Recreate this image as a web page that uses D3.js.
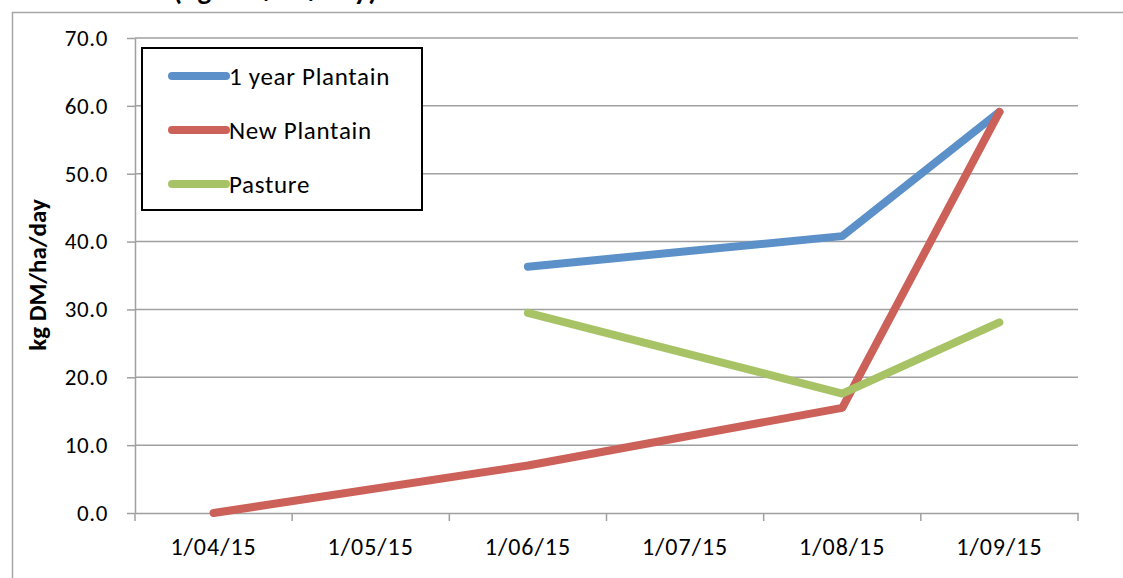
<!DOCTYPE html>
<html>
<head>
<meta charset="utf-8">
<script src="https://cdn.jsdelivr.net/npm/d3@7"></script>
<style>
  body { margin: 0; background: #fff; }
  svg { display: block; font-family: Calibri, Carlito, Lato, sans-serif; }
</style>
</head>
<body>
<div id="chart"></div>
<script>
// CONSTANTS
const WIDTH = 1123;
const HEIGHT = 578;
const FONT = "Calibri, Carlito, Lato, sans-serif";

// DATA
const dates = ["1/04/15", "1/05/15", "1/06/15", "1/07/15", "1/08/15", "1/09/15"];
const oneYearPlantain = [null, null, 36.3, null, 40.8, 59.1];
const newPlantain = [0.0, null, 7.0, null, 15.5, 59.1];
const pasture = [null, null, 29.5, null, 17.6, 28.1];
const yTicks = [0, 10, 20, 30, 40, 50, 60, 70];

const series = [
  { name: "1 year Plantain", values: oneYearPlantain, color: "#5b90c8" },
  { name: "New Plantain", values: newPlantain, color: "#cc615a" },
  { name: "Pasture", values: pasture, color: "#a7c366" },
];

const margin = { left: 135, right: 45, top: 38, bottom: 65 };

const svg = d3.select("#chart")
  .append("svg")
  .attr("width", WIDTH)
  .attr("height", HEIGHT);

// outer chart frame
svg.append("path")
  .attr("d", `M12.5,${HEIGHT} V12.5 H${WIDTH}`)
  .attr("fill", "none")
  .attr("stroke", "#a6a6a6")
  .attr("stroke-width", 1.5);

// title, cut off by the top edge like in the source
svg.append("text")
  .attr("x", 173)
  .attr("y", 0)
  .attr("font-size", 29)
  .attr("font-weight", "bold")
  .attr("letter-spacing", 0.8)
  .attr("fill", "#000")
  .text("(kg DM/ha/day)");

const x = d3.scaleBand()
  .domain(dates)
  .range([margin.left, WIDTH - margin.right]);

const y = d3.scaleLinear()
  .domain([0, 70])
  .range([HEIGHT - margin.bottom, margin.top]);

// gridlines
svg.append("g")
  .selectAll("line")
  .data(yTicks.filter(d => d > 0))
  .enter()
  .append("line")
  .attr("x1", margin.left)
  .attr("x2", WIDTH - margin.right)
  .attr("y1", d => y(d))
  .attr("y2", d => y(d))
  .attr("stroke", "#a0a0a0")
  .attr("stroke-width", 1.5);

// y axis
const yAxis = svg.append("g")
  .attr("transform", `translate(${margin.left},0)`)
  .call(d3.axisLeft(y).tickValues(yTicks).tickFormat(d3.format(".1f")).tickSize(8).tickSizeOuter(0));
yAxis.select(".domain").attr("stroke", "#a0a0a0").attr("stroke-width", 1.5);
yAxis.selectAll(".tick line").attr("stroke", "#a0a0a0").attr("stroke-width", 1.5);
yAxis.selectAll(".tick text")
  .attr("font-size", 23)
  .attr("font-family", FONT)
  .attr("letter-spacing", 0.6)
  .attr("fill", "#000")
  .attr("x", -27);

// x axis
const xAxis = svg.append("g")
  .attr("transform", `translate(0,${y(0)})`)
  .call(d3.axisBottom(x).tickSize(0).tickSizeOuter(0));
xAxis.select(".domain").attr("stroke", "#a0a0a0").attr("stroke-width", 1.5);
xAxis.selectAll(".tick text")
  .attr("font-size", 24)
  .attr("font-family", FONT)
  .attr("letter-spacing", 1)
  .attr("fill", "#000")
  .attr("y", 25);

const boundaries = dates.map(d => x(d)).concat([x(dates[dates.length - 1]) + x.bandwidth()]);
xAxis.selectAll(".bound")
  .data(boundaries)
  .enter()
  .append("line")
  .attr("class", "bound")
  .attr("x1", d => d)
  .attr("x2", d => d)
  .attr("y1", 0)
  .attr("y2", 8)
  .attr("stroke", "#a0a0a0")
  .attr("stroke-width", 1.5);

// y label
svg.append("text")
  .attr("transform", `translate(46,275) rotate(-90)`)
  .attr("text-anchor", "middle")
  .attr("font-size", 25)
  .attr("font-weight", "bold")
  .attr("fill", "#000")
  .text("kg DM/ha/day");

// lines
const lineGen = d3.line()
  .x(d => x(d.date) + x.bandwidth() / 2)
  .y(d => y(d.value));

svg.append("g")
  .selectAll("path")
  .data(series)
  .enter()
  .append("path")
  .attr("d", s => lineGen(s.values.map((v, i) => ({ date: dates[i], value: v })).filter(d => d.value !== null)))
  .attr("fill", "none")
  .attr("stroke", s => s.color)
  .attr("stroke-width", 8)
  .attr("stroke-linecap", "round")
  .attr("stroke-linejoin", "round");

// legend
const legend = svg.append("g");
legend.append("rect")
  .attr("x", 142)
  .attr("y", 48)
  .attr("width", 280)
  .attr("height", 162)
  .attr("fill", "#fff")
  .attr("stroke", "#000")
  .attr("stroke-width", 2);

const items = legend.selectAll(".item")
  .data(series)
  .enter()
  .append("g")
  .attr("class", "item")
  .attr("transform", (d, i) => `translate(0,${76 + i * 54})`);
items.append("line")
  .attr("x1", 172)
  .attr("x2", 226)
  .attr("stroke", d => d.color)
  .attr("stroke-width", 8)
  .attr("stroke-linecap", "round");
items.append("text")
  .attr("x", 229)
  .attr("y", 9)
  .attr("font-size", 25)
  .attr("font-family", FONT)
  .attr("letter-spacing", 0.7)
  .attr("fill", "#000")
  .text(d => d.name);
</script>
</body>
</html>
